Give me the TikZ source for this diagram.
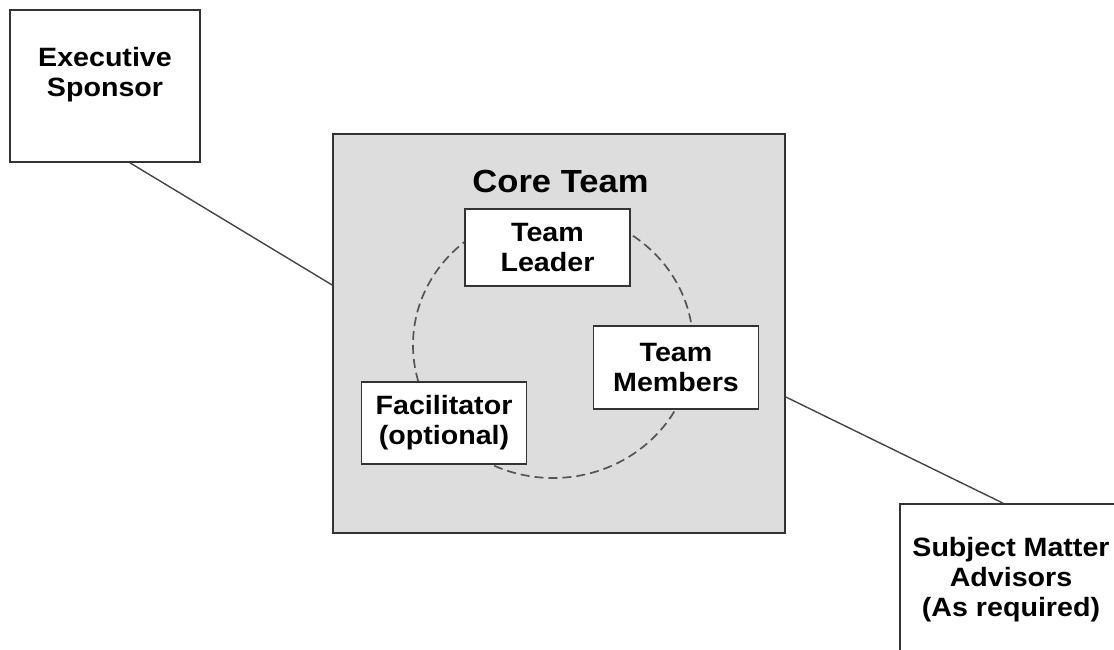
\documentclass[tikz,border=0pt]{standalone}
\usepackage{fontspec}
\setmainfont[FakeStretch=1.08]{Liberation Sans}
\usetikzlibrary{positioning}
\definecolor{BoxLine} {HTML}{333333}
\definecolor{CoreGray}{HTML}{DDDDDD}
\definecolor{LinkGray}{HTML}{444444}
\definecolor{RingGray}{HTML}{555555}
\tikzset{
  obox/.style={rectangle,draw=BoxLine,line width=1.7pt,fill=white,inner sep=0pt},
  ibox/.style={obox,align=center,minimum width=165pt,
               font=\fontsize{26.5}{30}\selectfont\bfseries},
  lbl/.style={inner sep=0pt,align=center,
              font=\fontsize{26.5}{30}\selectfont\bfseries},
  link/.style={draw=LinkGray,line width=1.4pt},
  ring/.style={draw=RingGray,line width=1.7pt,dash pattern=on 9pt off 5pt},
}
\begin{document}
\begin{tikzpicture}[x=1pt,y=-1pt]
  \useasboundingbox (0,0) rectangle (1114,650);

  % sponsor, top left
  \node[obox,minimum width=190pt,minimum height=152pt] (exec) at (105,86) {};
  \node[lbl,anchor=north] (execlbl) at (105,47) {Executive\\Sponsor};

  % core team with its ring
  \node[obox,fill=CoreGray,minimum width=452pt,minimum height=399pt]
    (core) at (559,333.5) {};
  \node[lbl,font=\fontsize{32}{36}\selectfont\bfseries,anchor=base]
    (corelbl) at (560.5,193) {Core Team};
  \draw[ring] (553,345) ellipse [x radius=140, y radius=133];

  \node[ibox,minimum height=77pt] (leader)  at (547.5,247.5) {Team\\Leader};
  \node[ibox,minimum height=83pt] (members) at (676,367.5)   {Team\\Members};
  \node[ibox,minimum height=82pt] (facil)   at (444,423)     {Facilitator\\(optional)};

  % advisors, cut off at the page edge
  \begin{scope}
    \clip (0,0) rectangle (1114,650);
    \node[obox,minimum width=222pt,minimum height=200pt] (subj) at (1011,604) {};
  \end{scope}
  \node[lbl,anchor=north] (subjlbl) at (1011,537)
    {Subject Matter\\Advisors\\(As required)};

  \draw[link] ([xshift=25pt]exec.south) -- ([yshift=48.5pt]core.west);
  \draw[link] ([yshift=-63.5pt]core.east) -- ([xshift=-8pt]subj.north);

\end{tikzpicture}
\end{document}
